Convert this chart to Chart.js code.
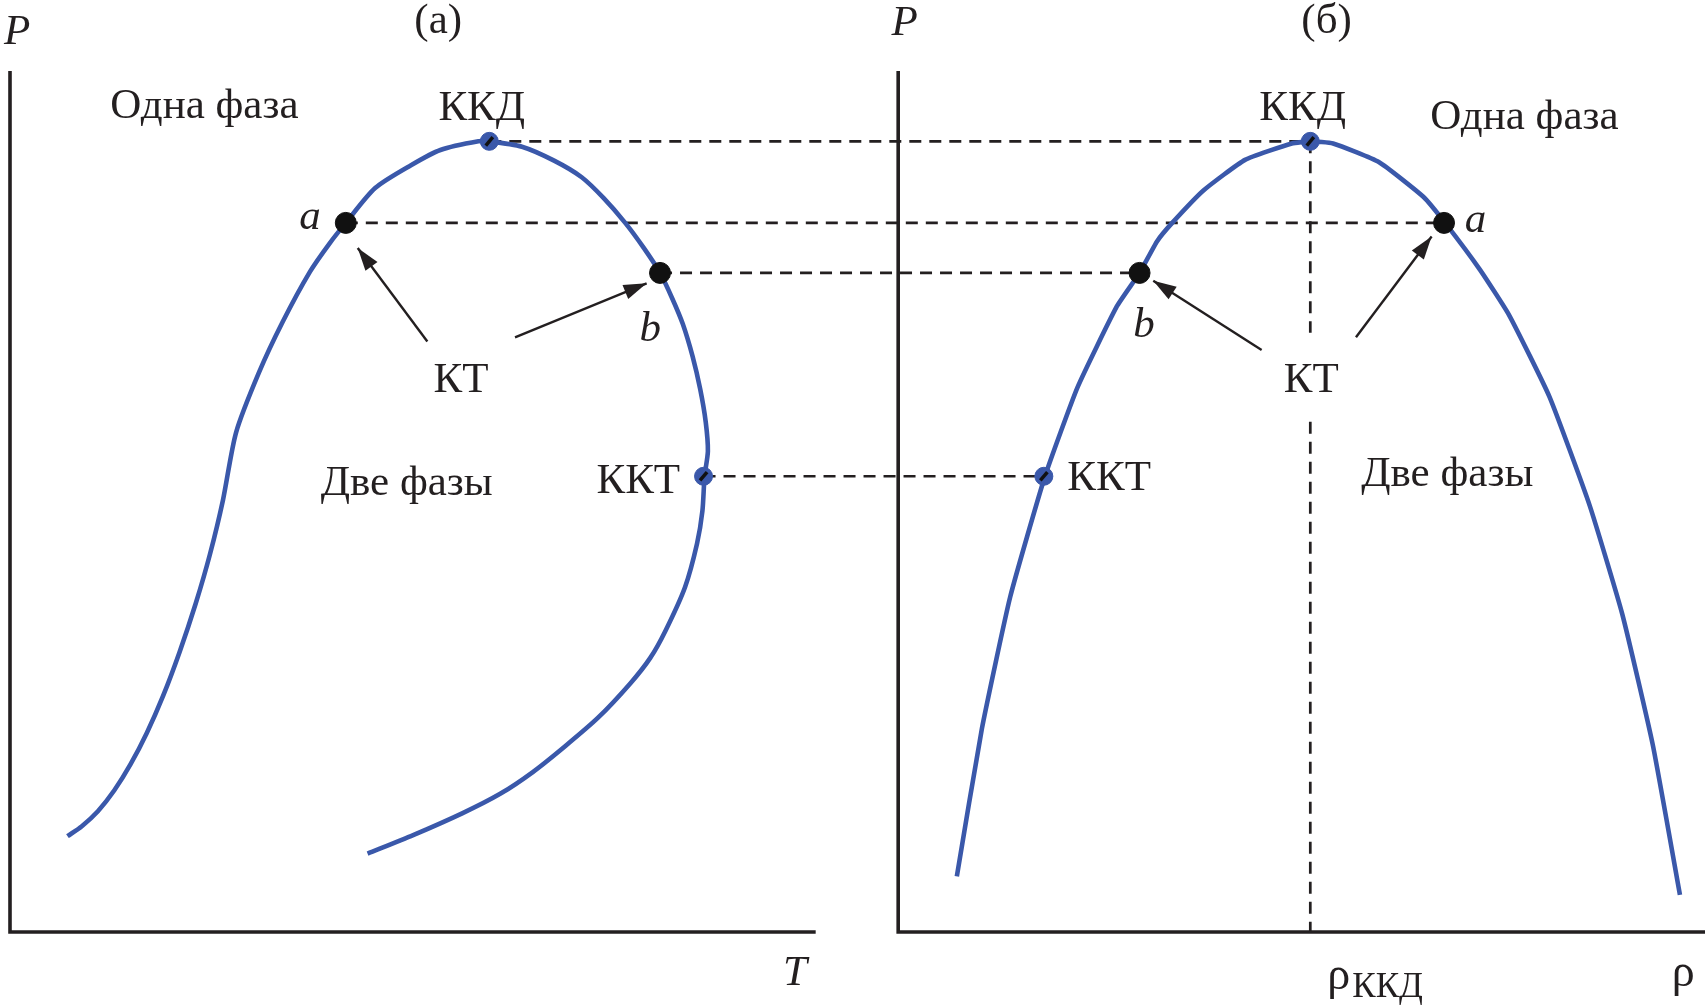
<!DOCTYPE html>
<html><head><meta charset="utf-8">
<script src="https://cdn.jsdelivr.net/npm/chart.js@4.4.1/dist/chart.umd.min.js"></script>
<style>html,body{margin:0;padding:0;background:#fff;}canvas{display:block;}</style>
</head><body>
<canvas id="c" width="1705" height="1005"></canvas>
<script>
// ---- data (arbitrary units: T and rho 0..100, P 0..100) ----
const T_MAX = 100, RHO_MAX = 100.14, P_MAX = 100;
const RHO_OFFSET = 110.24; // origin of panel (б) on the shared horizontal scale

// (а) P–T phase envelope
const LEFT_T = [7.13, 8.88, 10.91, 12.93, 14.95, 16.98, 19.0, 21.03, 23.05, 24.81, 26.43, 28.05, 30.88, 33.85, 37.22, 39.65, 41.68, 45.32, 49.77, 53.42, 58.14, 59.49, 63.54, 67.59, 70.96, 73.66, 76.36, 78.66, 80.68, 82.17, 83.51, 84.73, 85.67, 86.35, 86.62, 86.21, 85.94, 85.27, 83.78, 81.36, 79.47, 77.04, 72.99, 68.94, 64.89, 60.84, 56.12, 50.04, 44.38];
const LEFT_P = [11.13, 12.26, 14.03, 16.43, 19.46, 23.12, 27.42, 32.47, 38.15, 43.84, 50.15, 57.98, 64.93, 70.87, 76.67, 79.96, 82.36, 86.40, 89.05, 90.82, 91.83, 91.83, 91.20, 89.56, 87.66, 85.26, 82.36, 79.45, 76.55, 73.64, 70.61, 66.82, 63.03, 59.25, 55.84, 52.93, 48.89, 45.10, 40.05, 35.0, 31.84, 28.93, 24.89, 21.61, 18.58, 16.05, 13.78, 11.25, 9.10];

// (б) P–rho phase envelope
const RIGHT_RHO = [7.28, 10.39, 13.90, 18.22, 22.27, 27.12, 29.96, 32.12, 34.01, 37.92, 43.05, 48.85, 51.15, 53.98, 59.65, 65.18, 67.88, 72.20, 75.84, 80.84, 85.83, 89.88, 93.66, 97.03];
const RIGHT_P = [6.45, 23.63, 38.91, 52.93, 63.29, 72.63, 76.55, 80.21, 82.36, 86.15, 89.68, 91.58, 91.83, 91.58, 89.43, 85.39, 82.36, 76.93, 71.62, 62.15, 49.52, 36.89, 21.73, 4.31];

// special points: ККД, a, b, ККТ
const POINT_NAMES = ['ККД', 'a', 'b', 'ККТ'];
const POINT_T   = [59.49, 41.68, 80.68, 86.08];
const POINT_RHO = [51.15, 67.75, 29.96, 18.08];
const POINT_P   = [91.83, 82.36, 76.55, 52.93];

// rho_KKD vertical reference (broken around the label КТ)
const VLINE_P = [91.83, 69.6, null, 59.25, 0];

// arrows: [tailX, tailP, tipX, tipP] (panel-relative X)
const ARROWS_LEFT  = [[51.80, 68.59, 43.16, 79.45], [62.68, 69.07, 79.02, 75.34]];
const ARROWS_RIGHT = [[45.11, 67.59, 31.66, 75.65], [56.82, 69.07, 66.21, 80.77]];

// ---- build ----
const BLUE = '#3a58aa', INK = '#231f20';
const zip = (xs, ys, off) => xs.map((x, i) => ({x: x + off, y: ys[i]}));
const line = (data, extra) => Object.assign({type: 'scatter', data, showLine: true, pointRadius: 0, clip: false, fill: false}, extra);

const datasets = [];
// axes
datasets.push(line([{x: 0, y: P_MAX}, {x: 0, y: 0}, {x: T_MAX, y: 0}], {borderColor: INK, borderWidth: 3.6, borderJoinStyle: 'miter', order: 5}));
datasets.push(line([{x: RHO_OFFSET, y: P_MAX}, {x: RHO_OFFSET, y: 0}, {x: RHO_OFFSET + RHO_MAX, y: 0}], {borderColor: INK, borderWidth: 3.6, borderJoinStyle: 'miter', order: 5}));
// dashed connectors
POINT_NAMES.forEach((n, i) => {
  datasets.push(line([{x: POINT_T[i], y: POINT_P[i]}, {x: RHO_OFFSET + POINT_RHO[i], y: POINT_P[i]}], {borderColor: INK, borderWidth: 2.7, borderDash: [12, 8], order: 4}));
});
datasets.push(line(VLINE_P.map(p => ({x: RHO_OFFSET + POINT_RHO[0], y: p})), {borderColor: INK, borderWidth: 2.7, borderDash: [12, 8], spanGaps: false, order: 4}));
// arrows
ARROWS_LEFT.forEach(a => datasets.push(line([{x: a[0], y: a[1]}, {x: a[2], y: a[3]}], {borderColor: INK, borderWidth: 2.4, arrow: true, order: 3})));
ARROWS_RIGHT.forEach(a => datasets.push(line([{x: RHO_OFFSET + a[0], y: a[1]}, {x: RHO_OFFSET + a[2], y: a[3]}], {borderColor: INK, borderWidth: 2.4, arrow: true, order: 3})));
// curves
datasets.push(line(zip(LEFT_T, LEFT_P, 0), {borderColor: BLUE, borderWidth: 4.6, tension: 0.25, order: 2}));
datasets.push(line(zip(RIGHT_RHO, RIGHT_P, RHO_OFFSET), {borderColor: BLUE, borderWidth: 4.6, tension: 0.15, order: 2}));
// points
const blackIdx = [1, 2], blueIdx = [0, 3];
const ptsBoth = idx => idx.flatMap(i => [{x: POINT_T[i], y: POINT_P[i]}, {x: RHO_OFFSET + POINT_RHO[i], y: POINT_P[i]}]);
datasets.push({type: 'scatter', data: ptsBoth(blackIdx), pointRadius: 10.5, pointBackgroundColor: '#111', pointBorderColor: '#111', pointBorderWidth: 1, clip: false, order: 1});
datasets.push({type: 'scatter', data: ptsBoth(blueIdx), pointRadius: 9, pointBackgroundColor: BLUE, pointBorderColor: BLUE, pointBorderWidth: 1, clip: false, order: 1});
datasets.push({type: 'scatter', data: ptsBoth(blueIdx), pointStyle: 'line', pointRadius: 5.5, pointRotation: -50, pointBorderColor: '#111', pointBorderWidth: 3.5, clip: false, order: 0});

// text annotations, positioned on the same scales
const LABELS = [
  {t: 'P', x: 0.9, y: 104.46, it: true},
  {t: '(а)', x: 53.15, y: 105.72},
  {t: 'Одна фаза', x: 24.13, y: 95.87},
  {t: 'ККД', x: 58.55, y: 95.62},
  {t: 'a', x: 37.22, y: 82.99, it: true},
  {t: 'b', x: 79.47, y: 69.98, it: true},
  {t: 'КТ', x: 55.98, y: 64.04},
  {t: 'Две фазы', x: 49.24, y: 52.05},
  {t: 'ККТ', x: 77.98, y: 52.30},
  {t: 'T', x: 97.42, y: -4.79, it: true},
  {t: 'P', x: RHO_OFFSET + 0.81, y: 105.47, it: true},
  {t: '(б)', x: RHO_OFFSET + 53.17, y: 105.72},
  {t: 'ККД', x: RHO_OFFSET + 50.2, y: 95.62},
  {t: 'Одна фаза', x: RHO_OFFSET + 77.73, y: 94.61},
  {t: 'a', x: RHO_OFFSET + 71.66, y: 82.61, it: true},
  {t: 'b', x: RHO_OFFSET + 30.5, y: 70.36, it: true},
  {t: 'КТ', x: RHO_OFFSET + 51.28, y: 64.04},
  {t: 'ККТ', x: RHO_OFFSET + 26.18, y: 52.68},
  {t: 'Две фазы', x: RHO_OFFSET + 68.15, y: 53.06},
];

const FONT = '"Liberation Serif", "DejaVu Serif", serif';
const annot = {
  id: 'annot',
  afterDatasetsDraw(chart) {
    const ctx = chart.ctx, xs = chart.scales.x, ys = chart.scales.y;
    // arrow heads
    chart.data.datasets.forEach(ds => {
      if (!ds.arrow) return;
      const a = ds.data[0], b = ds.data[1];
      const x0 = xs.getPixelForValue(a.x), y0 = ys.getPixelForValue(a.y);
      const x1 = xs.getPixelForValue(b.x), y1 = ys.getPixelForValue(b.y);
      const ang = Math.atan2(y1 - y0, x1 - x0), L = 23, W = 7.5;
      ctx.save();
      ctx.fillStyle = INK;
      ctx.beginPath();
      ctx.moveTo(x1, y1);
      ctx.lineTo(x1 - L * Math.cos(ang) + W * Math.sin(ang), y1 - L * Math.sin(ang) - W * Math.cos(ang));
      ctx.lineTo(x1 - L * Math.cos(ang) - W * Math.sin(ang), y1 - L * Math.sin(ang) + W * Math.cos(ang));
      ctx.closePath();
      ctx.fill();
      ctx.restore();
    });
    ctx.save();
    ctx.fillStyle = INK;
    ctx.textAlign = 'center';
    ctx.textBaseline = 'middle';
    LABELS.forEach(l => {
      ctx.font = (l.it ? 'italic ' : '') + '43px ' + FONT;
      ctx.fillText(l.t, xs.getPixelForValue(l.x), ys.getPixelForValue(l.y));
    });
    ctx.textAlign = 'left';
    ctx.textBaseline = 'alphabetic';
    // rho axis label
    ctx.font = '46px ' + FONT;
    ctx.fillText('ρ', xs.getPixelForValue(RHO_OFFSET + 96.0), ys.getPixelForValue(-6.3));
    // rho_KKD label with subscript
    const px = xs.getPixelForValue(RHO_OFFSET + POINT_RHO[0]);
    const py = ys.getPixelForValue(-6.6);
    ctx.fillText('ρ', px + 17, py);
    ctx.font = '35px ' + FONT;
    ctx.fillText('ККД', px + 42, py + 8);
    ctx.restore();
  }
};

new Chart(document.getElementById('c'), {
  data: {datasets},
  options: {
    responsive: false,
    animation: false,
    layout: {autoPadding: false, padding: {left: 10, right: 0, top: 71, bottom: 73}},
    plugins: {legend: {display: false}, tooltip: {enabled: false}},
    scales: {
      x: {type: 'linear', min: 0, max: RHO_OFFSET + RHO_MAX, display: false},
      y: {type: 'linear', min: 0, max: P_MAX, display: false}
    }
  },
  plugins: [annot]
});
</script></body></html>
